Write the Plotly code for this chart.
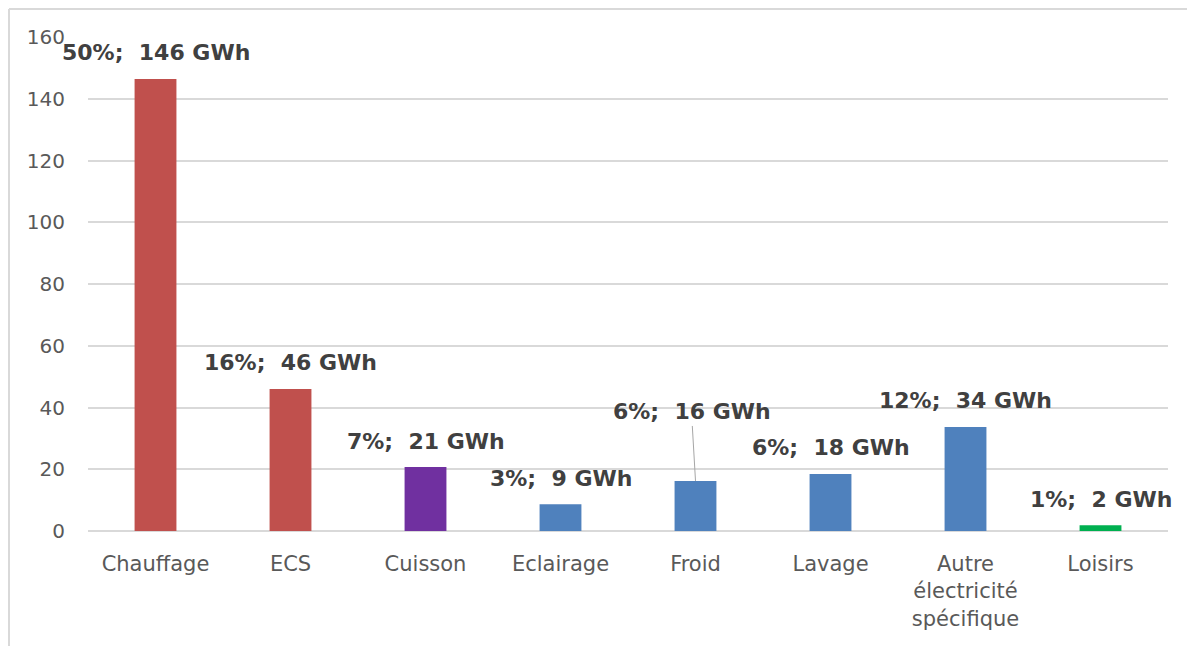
import plotly.graph_objects as go

categories = ["Chauffage", "ECS", "Cuisson", "Eclairage", "Froid", "Lavage",
              "Autre<br>électricité<br>spécifique", "Loisirs"]
values = [146.4, 46.0, 20.7, 8.7, 16.2, 18.5, 33.7, 1.9]
labels = ["50%;  146 GWh", "16%;  46 GWh", "7%;  21 GWh", "3%;  9 GWh",
          "6%;  16 GWh", "6%;  18 GWh", "12%;  34 GWh", "1%;  2 GWh"]
colors = ["#C0504D", "#C0504D", "#7030A0", "#4F81BD", "#4F81BD", "#4F81BD",
          "#4F81BD", "#00B050"]
y_ticks = [0, 20, 40, 60, 80, 100, 120, 140, 160]

W, H = 1187, 638
L, T, PW, PH = 80, 29, 1080, 494

fig = go.Figure()
fig.add_trace(go.Bar(x=categories, y=values, marker=dict(color=colors, line=dict(width=0)),
                     hoverinfo="skip"))

lab_font = dict(family="DejaVu Sans", size=22, color="#404040")
annotations = []
for c, v, t in zip(categories, values, labels):
    if c == "Froid":
        annotations.append(dict(x=c, y=v, text="<b>" + t + "</b>", showarrow=True,
                                arrowhead=0, arrowwidth=1, arrowcolor="#A6A6A6",
                                ax=-4, ay=-69, font=lab_font))
    else:
        annotations.append(dict(x=c, y=v, text="<b>" + t + "</b>", showarrow=False,
                                yanchor="middle", yshift=26, font=lab_font))

fig.update_layout(
    width=W, height=H,
    margin=dict(l=L, r=W - L - PW, t=T, b=H - T - PH, autoexpand=False),
    paper_bgcolor="white", plot_bgcolor="white",
    showlegend=False,
    bargap=0.69,
    annotations=annotations,
    xaxis=dict(range=[-0.5, len(categories) - 0.5], autorange=False, automargin=False,
               showline=False, showgrid=False, ticks="", ticklabelstandoff=18,
               tickfont=dict(family="DejaVu Sans", size=21, color="#595959")),
    yaxis=dict(range=[0, 160], tickvals=y_ticks, showgrid=True, gridcolor="#D9D9D9",
               gridwidth=1.5, zeroline=True, zerolinecolor="#D9D9D9", zerolinewidth=1.5,
               showline=False, ticks="", ticklen=0, ticklabelstandoff=22, automargin=False,
               tickfont=dict(family="DejaVu Sans", size=20, color="#595959")),
    shapes=[
        dict(type="line", xref="paper", yref="paper", x0=-(L - 1) / PW, x1=-(L - 1) / PW,
             y0=1 + (T - 1) / PH, y1=-(H - T - PH) / PH, line=dict(color="#D9D9D9", width=2)),
        dict(type="line", xref="paper", yref="paper", x0=-(L - 1) / PW, x1=(W - L) / PW,
             y0=1 + (T - 1) / PH, y1=1 + (T - 1) / PH, line=dict(color="#D9D9D9", width=2)),
    ],
)

fig.write_html("out.html")
